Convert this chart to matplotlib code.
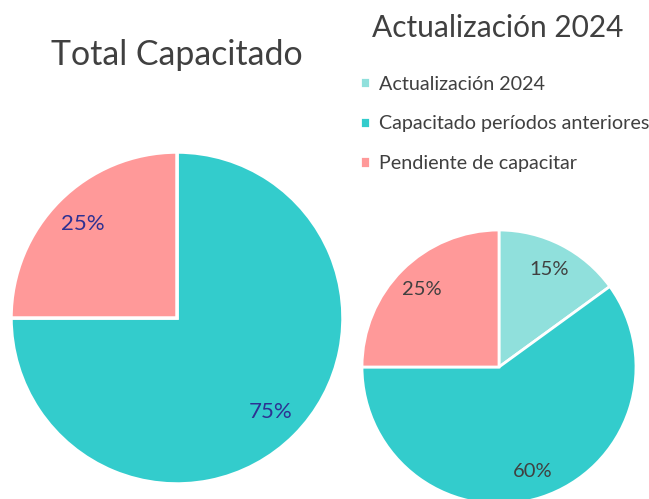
import matplotlib
matplotlib.use("Agg")
import matplotlib.pyplot as plt

plt.rcParams['font.family'] = ['Lato', 'DejaVu Sans']

# data
total_labels = ['Capacitado', 'Pendiente de capacitar']
total_values = [75, 25]
total_colors = ['#33CCCC', '#FF9999']

act_labels = ['Actualización 2024', 'Capacitado períodos anteriores', 'Pendiente de capacitar']
act_values = [15, 60, 25]
act_colors = ['#90E0DC', '#33CCCC', '#FF9999']

W, H = 649, 499
fig = plt.figure(figsize=(W / 100, H / 100), dpi=100)


def pie_axes(cx, cy, r):
    # cx, cy in pixels from top-left
    ax = fig.add_axes([(cx - r) / W, (H - cy - r) / H, 2 * r / W, 2 * r / H])
    return ax


ax1 = pie_axes(177, 318, 166)
w1, _, t1 = ax1.pie(total_values, colors=total_colors, startangle=90, counterclock=False,
                    autopct='%1.0f%%', pctdistance=0.8, radius=1, frame=True,
                    wedgeprops=dict(edgecolor='white', linewidth=2.5),
                    textprops=dict(fontsize=16, color='#2E3192'))
ax1.set_xlim(-1, 1)
ax1.set_ylim(-1, 1)
ax1.set_aspect('equal')
ax1.axis('off')

ax2 = pie_axes(499, 367, 137)
w2, _, t2 = ax2.pie(act_values, colors=act_colors, startangle=90, counterclock=False,
                    autopct='%1.0f%%', pctdistance=0.8, radius=1, frame=True,
                    wedgeprops=dict(edgecolor='white', linewidth=2),
                    textprops=dict(fontsize=14.5, color='#404040'))
ax2.set_xlim(-1, 1)
ax2.set_ylim(-1, 1)
ax2.set_aspect('equal')
ax2.axis('off')

fig.text(177 / W, 1 - 55 / H, 'Total Capacitado', ha='center', va='center',
         fontsize=24.4, color='#404040')
fig.text(498 / W, 1 - 28 / H, 'Actualización 2024', ha='center', va='center',
         fontsize=21.5, color='#404040')

fig.legend(w2, act_labels, loc='upper left', bbox_to_anchor=(342 / W, 1 - 58 / H),
           frameon=False, fontsize=14.2, handlelength=0.5, handleheight=0.5,
           handletextpad=0.5, labelspacing=1.15, labelcolor='#404040')

fig.savefig('out.png', dpi=100)
